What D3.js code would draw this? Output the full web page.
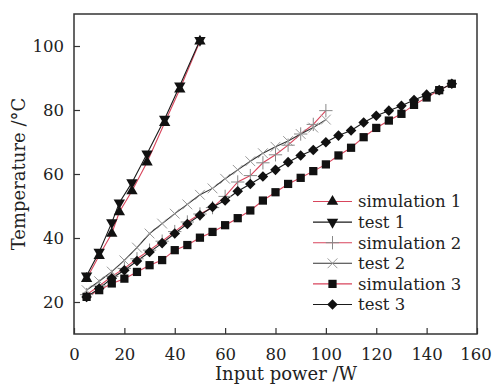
<!DOCTYPE html>
<html>
<head>
<meta charset="utf-8">
<script src="https://cdn.jsdelivr.net/npm/d3@7"></script>
<style>
  body { margin: 0; background: #fff; }
  text { font-family: "DejaVu Serif", "Liberation Serif", serif; fill: #222; }
</style>
</head>
<body>
<div id="chart"></div>
<script>

// data
const power1 = [5, 10, 15, 18, 23, 29, 36, 42, 50];
const simulation1 = [27.3, 34.5, 41.4, 48.1, 54.7, 63.7, 76, 86.5, 101.5];
const test1 = [28.2, 35.6, 44.8, 51, 57.3, 66.3, 77.2, 87.6, 101.8];

const power2 = [5, 10, 15, 20, 25, 30, 35, 40, 45, 50, 55, 60, 65, 70, 75, 80, 85, 90, 95, 100];
const simulation2 = [22.3, 25, 28, 30.5, 33.5, 36.2, 39, 42, 45, 47.5, 49.5, 53, 57.5, 59.5, 63.5, 66, 69, 72.5, 75.5, 79.8];
const test2 = [23.7, 26.5, 29.5, 33, 37, 41.4, 44.5, 47.6, 50.5, 53.5, 55.5, 58.5, 61.3, 64, 66.5, 68.5, 70.3, 72.5, 74.5, 77];

const power3 = [5, 10, 15, 20, 25, 30, 35, 40, 45, 50, 55, 60, 65, 70, 75, 80, 85, 90, 95, 100,
  105, 110, 115, 120, 125, 130, 135, 140, 145, 150];
const simulation3 = [21.6, 23.7, 25.8, 27.3, 29.4, 31.5, 33.1, 36.2, 37.8, 40.1, 41.9, 44, 46.2, 48.6, 51.7,
  54.3, 56.9, 58.8, 60.9, 63, 65.8, 68.2, 71.5, 74.4, 76.7, 78.8, 81.6, 83.9, 86.2, 88.2];
const test3 = [21.6, 24.2, 27.4, 29.9, 32.8, 35.6, 38.4, 41.4, 44.4, 47.1, 49.7, 51.7, 54.6, 56.9, 59.2,
  61.3, 63.7, 65.8, 67.5, 69.9, 72, 73.6, 76.1, 78.2, 79.8, 81.3, 83.1, 84.8, 86.2, 88.2];

const xTicks = [0, 20, 40, 60, 80, 100, 120, 140, 160];
const yTicks = [20, 40, 60, 80, 100];
const seriesNames = ['simulation 1', 'test 1', 'simulation 2', 'test 2', 'simulation 3', 'test 3'];

const width = 492;
const height = 387;
const margin = {top: 14, right: 15, bottom: 53, left: 74};
const plotW = width - margin.left - margin.right;
const plotH = height - margin.top - margin.bottom;

const red = '#d8455c';
const dark = '#1a1a1a';

const svg = d3.select('#chart').append('svg')
  .attr('width', width)
  .attr('height', height);

const g = svg.append('g')
  .attr('transform', `translate(${margin.left},${margin.top})`);

const x = d3.scaleLinear().domain([0, 160]).range([0, plotW]);
const y = d3.scaleLinear().domain([10, 110]).range([plotH, 0]);

// styles of each series, in legend order
const series = [
  {name: seriesNames[0], xs: power1, ys: simulation1, line: red, symbol: d3.symbolTriangle, size: 56, rot: 0, fill: '#111', stroke: 'none'},
  {name: seriesNames[1], xs: power1, ys: test1, line: dark, symbol: d3.symbolTriangle, size: 56, rot: 180, fill: '#111', stroke: 'none'},
  {name: seriesNames[2], xs: power2, ys: simulation2, line: red, symbol: d3.symbolPlus, size: 60, rot: 0, fill: 'none', stroke: '#888'},
  {name: seriesNames[3], xs: power2, ys: test2, line: '#333', symbol: d3.symbolTimes, size: 64, rot: 0, fill: 'none', stroke: '#999'},
  {name: seriesNames[4], xs: power3, ys: simulation3, line: red, symbol: d3.symbolSquare, size: 68, rot: 0, fill: '#111', stroke: 'none'},
  {name: seriesNames[5], xs: power3, ys: test3, line: dark, symbol: d3.symbolSquare, size: 56, rot: 45, fill: '#111', stroke: 'none'}
];

const line = d3.line().x(d => x(d[0])).y(d => y(d[1]));

// lines first, markers on top
series.forEach(s => {
  const pts = s.xs.map((v, i) => [v, s.ys[i]]);
  g.append('path')
    .datum(pts)
    .attr('fill', 'none')
    .attr('stroke', s.line)
    .attr('stroke-width', 1.1)
    .attr('d', line);
});

series.forEach(s => {
  const pts = s.xs.map((v, i) => [v, s.ys[i]]);
  g.append('g').selectAll('path')
    .data(pts)
    .join('path')
    .attr('transform', d => `translate(${x(d[0])},${y(d[1])}) rotate(${s.rot})`)
    .attr('d', d3.symbol().type(s.symbol).size(s.size))
    .attr('fill', s.fill)
    .attr('stroke', s.stroke)
    .attr('stroke-width', 1);
});

// axes with inward ticks
const xAxis = g.append('g')
  .attr('transform', `translate(0,${plotH})`)
  .call(d3.axisBottom(x).tickValues(xTicks).tickSize(-6).tickPadding(14));
const yAxis = g.append('g')
  .call(d3.axisLeft(y).tickValues(yTicks).tickSize(-6).tickPadding(10));

[xAxis, yAxis].forEach(a => {
  a.select('.domain').remove();
  a.selectAll('line').attr('stroke', '#333').attr('stroke-width', 1.2);
  a.selectAll('text').attr('font-size', 16.5).attr('fill', '#222')
    .attr('font-family', '"DejaVu Serif", serif');
});
// last label sits against the page edge
xAxis.selectAll('.tick text').filter(d => d === 160).attr('dx', -1.5);

// frame
g.append('rect')
  .attr('width', plotW)
  .attr('height', plotH)
  .attr('fill', 'none')
  .attr('stroke', '#333')
  .attr('stroke-width', 1.5);

// axis titles
svg.append('text')
  .attr('x', 286)
  .attr('y', 380)
  .attr('text-anchor', 'middle')
  .attr('font-size', 18)
  .text('Input power /W');

svg.append('text')
  .attr('transform', `translate(25,${margin.top + plotH / 2}) rotate(-90)`)
  .attr('text-anchor', 'middle')
  .attr('font-size', 18)
  .text('Temperature /°C');

// legend
const legend = svg.append('g').attr('transform', 'translate(313,201.5)');
const rowH = 20.6;

series.forEach((s, i) => {
  const row = legend.append('g').attr('transform', `translate(0,${i * rowH})`);
  row.append('line')
    .attr('x1', 0).attr('x2', 39)
    .attr('stroke', s.line)
    .attr('stroke-width', 1.1);
  row.append('path')
    .attr('transform', `translate(19.5,0) rotate(${s.rot})`)
    .attr('d', d3.symbol().type(s.symbol).size(s.size))
    .attr('fill', s.fill)
    .attr('stroke', s.stroke);
  row.append('text')
    .attr('x', 45)
    .attr('dy', '0.36em')
    .attr('font-size', 16.5)
    .text(s.name);
});

</script>
</body>
</html>
